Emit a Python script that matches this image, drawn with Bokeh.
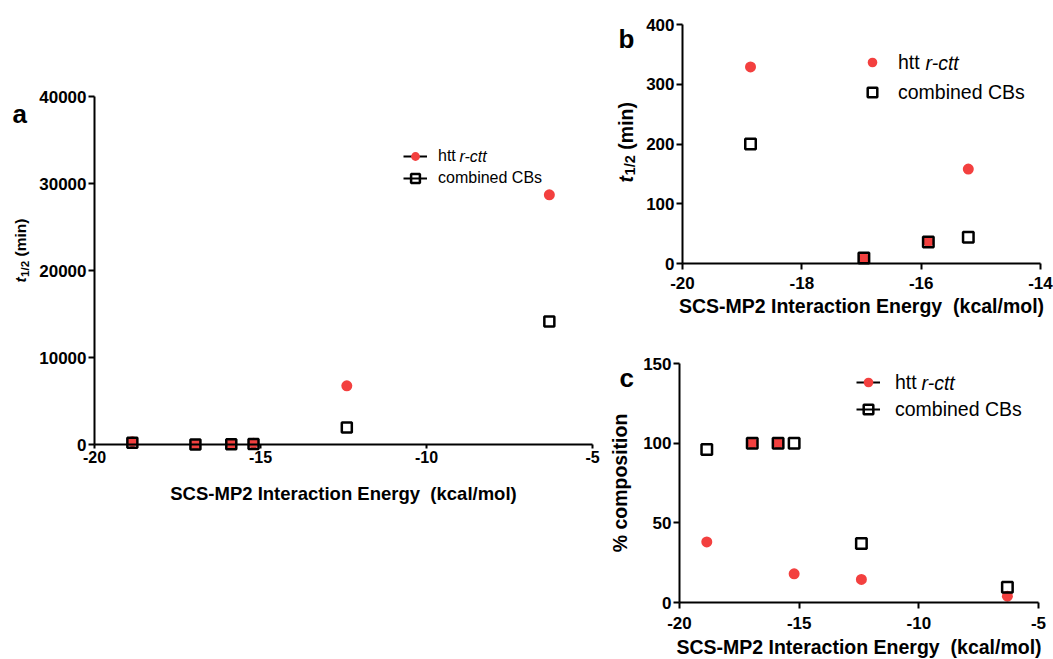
from math import pi
from bokeh.plotting import figure
from bokeh.models import Range1d, FixedTicker, Legend, LegendItem, Label, LinearAxis
from bokeh.embed import file_html
from bokeh.resources import INLINE

# ---------------- data ----------------
energy = [-18.86, -16.96, -15.88, -15.21, -12.4, -6.3]
htt_t_half = [329, 9, 37, 158, 6750, 28700]
cb_t_half = [200, 9, 36, 44, 1950, 14150]
htt_pct = [38, 100, 100, 18, 14.5, 4]
cb_pct = [96, 100, 100, 100, 37, 9.5]

a_xticks = [-20, -15, -10, -5]
a_yticks = [0, 10000, 20000, 30000, 40000]
b_xticks = [-20, -18, -16, -14]
b_yticks = [0, 100, 200, 300, 400]
c_xticks = [-20, -15, -10, -5]
c_yticks = [0, 50, 100, 150]

x_title = "SCS-MP2 Interaction Energy \u00a0(kcal/mol)"
c_ytitle = "% composition"
name_htt = "htt"
name_htt_italic = "r-ctt"
name_cb = "combined CBs"
panel_letters = ["a", "b", "c"]

# ---------------- style / layout ----------------
W, H = 1053, 659
FONT = "Liberation Sans"
RED = "#f3403f"
NAN = float("nan")

p = figure(width=W, height=H, x_range=Range1d(0, W), y_range=Range1d(0, H),
           min_border=0, x_axis_location=None, y_axis_location=None,
           output_backend="svg", toolbar_location=None, tools="")
p.grid.visible = False
p.outline_line_color = None
p.background_fill_color = "white"
p.border_fill_color = "white"


def lin_range(d0, d1, s0, s1, flip):
    """Range whose values d0, d1 fall on page pixels s0, s1 of the canvas."""
    f0, f1 = (H - s0, H - s1) if flip else (s0, s1)
    extent = H if flip else W
    k = (d1 - d0) / (f1 - f0)
    return Range1d(d0 - f0 * k, d0 + (extent - f0) * k)


def style_axis(ax, ticks, tick_fs, tick_out, standoff):
    ax.ticker = FixedTicker(ticks=ticks)
    ax.major_label_overrides = {t: str(t) for t in ticks}
    ax.axis_line_width = 2
    ax.axis_line_color = "black"
    ax.major_tick_line_width = 2
    ax.major_tick_line_color = "black"
    ax.major_tick_in = 0
    ax.major_tick_out = tick_out
    ax.minor_tick_line_color = None
    ax.major_label_text_font = FONT
    ax.major_label_text_font_style = "bold"
    ax.major_label_text_font_size = f"{tick_fs}px"
    ax.major_label_text_color = "black"
    ax.major_label_standoff = standoff
    ax.axis_label_text_font = FONT
    ax.axis_label_text_font_style = "bold"
    ax.axis_label_text_color = "black"


def make_panel(name, xr, yr, frame, xticks, yticks, tick_fs, xstyle, ystyle):
    left, right, top, bottom = frame
    p.extra_x_ranges[name + "x"] = lin_range(xr[0], xr[1], left, right, False)
    p.extra_y_ranges[name + "y"] = lin_range(yr[0], yr[1], bottom, top, True)
    rn = dict(x_range_name=name + "x", y_range_name=name + "y")
    xa = LinearAxis(fixed_location=yr[0], bounds=xr, **rn)
    ya = LinearAxis(fixed_location=xr[0], bounds=yr, **rn)
    style_axis(xa, xticks, xstyle[0], xstyle[1], xstyle[2])
    style_axis(ya, yticks, tick_fs, ystyle[0], ystyle[1])
    p.add_layout(xa, "below")
    p.add_layout(ya, "left")
    return xa, ya, rn


def add_points(rn, xs, ys_htt, ys_cb, csize, ssize):
    c = p.scatter(xs, ys_htt, marker="circle", size=csize, fill_color=RED, line_color=None, **rn)
    s = p.scatter(xs, ys_cb, marker="square", size=ssize, fill_color=None,
                  line_color="black", line_width=2.5, **rn)
    return c, s


def legend_line(rn):
    # draws nothing in the plot; only gives the legend its connecting-line glyph
    return p.line(x=[NAN], y=[NAN], line_color="black", line_width=2, **rn)


def add_legend(items, left, bottom, fs, gh, spacing, standoff, italic_pos):
    leg = Legend(items=items, location=(left, H - bottom), orientation="vertical",
                 padding=0, margin=0, spacing=spacing, glyph_width=24, glyph_height=gh,
                 label_height=gh, label_standoff=standoff,
                 label_text_font=FONT, label_text_font_size=f"{fs}px", label_text_color="black",
                 border_line_color=None, background_fill_alpha=0)
    p.add_layout(leg)
    p.add_layout(Label(x=italic_pos[0], y=H - italic_pos[1], text=name_htt_italic,
                       text_font=FONT, text_font_style="italic", text_font_size=f"{fs}px",
                       text_baseline="middle", text_align="left", text_color="black"))


def add_letter(px, py, txt):
    p.add_layout(Label(x=px, y=H - py, text=txt, text_font=FONT,
                       text_font_style="bold", text_font_size="26px",
                       text_baseline="alphabetic", text_align="left", text_color="black"))


def add_t_half_label(px, py_bottom, fs):
    sub_fs = fs * 0.75
    t_w = 0.36 * fs
    sub_w = 1.39 * sub_fs
    space_w = 0.28 * fs
    common = dict(angle=pi / 2, text_font=FONT, text_baseline="middle",
                  text_align="left", text_color="black")
    y0 = H - py_bottom
    p.add_layout(Label(x=px, y=y0, text="t", text_font_style="bold italic",
                       text_font_size=f"{fs}px", **common))
    p.add_layout(Label(x=px + fs * 0.25, y=y0 + t_w, text="1/2",
                       text_font_style="bold", text_font_size=f"{sub_fs:.1f}px", **common))
    p.add_layout(Label(x=px, y=y0 + t_w + sub_w + space_w, text="(min)",
                       text_font_style="bold", text_font_size=f"{fs}px", **common))


# ---------------- panel a ----------------
xa, ya, rna = make_panel("a", (-20, -5), (0, 40000), (94, 592, 96, 444),
                         a_xticks, a_yticks, 17, (16, 4, 2), (6, 2))
xa.axis_label = x_title
xa.axis_label_text_font_size = "18.5px"
xa.axis_label_standoff = 17
ca, sa = add_points(rna, energy, htt_t_half, cb_t_half, 11, 10)
add_legend([LegendItem(label=name_htt, renderers=[legend_line(rna), ca]),
            LegendItem(label=name_cb, renderers=[legend_line(rna), sa])],
           403, 189, 16, 22, 0, 11, (459, 156))
add_letter(12, 113, panel_letters[0])
add_t_half_label(20, 282, 15.5)

# ---------------- panel b ----------------
xb, yb, rnb = make_panel("b", (-20, -14), (0, 400), (682, 1040, 24, 263),
                         b_xticks, b_yticks, 17, (17, 6, 7), (6, 2))
xb.axis_label = x_title
xb.axis_label_text_font_size = "19.5px"
xb.axis_label_standoff = 3
cb_, sb_ = add_points(rnb, energy[:4], htt_t_half[:4], cb_t_half[:4], 11, 10.5)
add_legend([LegendItem(label=name_htt, renderers=[cb_]),
            LegendItem(label=name_cb, renderers=[sb_])],
           860, 105, 19.5, 26, 4, 14, (925, 62))
add_letter(618, 38, panel_letters[1])
add_t_half_label(625, 182, 19.5)

# ---------------- panel c ----------------
xc, yc, rnc = make_panel("c", (-20, -5), (0, 150), (679, 1038, 363, 602),
                         c_xticks, c_yticks, 17, (17, 6, 8), (6, 2))
xc.axis_label = x_title
xc.axis_label_text_font_size = "19.5px"
xc.axis_label_standoff = 4
yc.axis_label = c_ytitle
yc.axis_label_text_font_size = "19.5px"
yc.axis_label_standoff = 9
cc, sc = add_points(rnc, energy, htt_pct, cb_pct, 11, 10.5)
add_legend([LegendItem(label=name_htt, renderers=[legend_line(rnc), cc]),
            LegendItem(label=name_cb, renderers=[legend_line(rnc), sc])],
           856, 422, 19.5, 26, 1, 15, (921, 382))
add_letter(619, 377, panel_letters[2])

open("out.html", "w").write(file_html(p, INLINE))
